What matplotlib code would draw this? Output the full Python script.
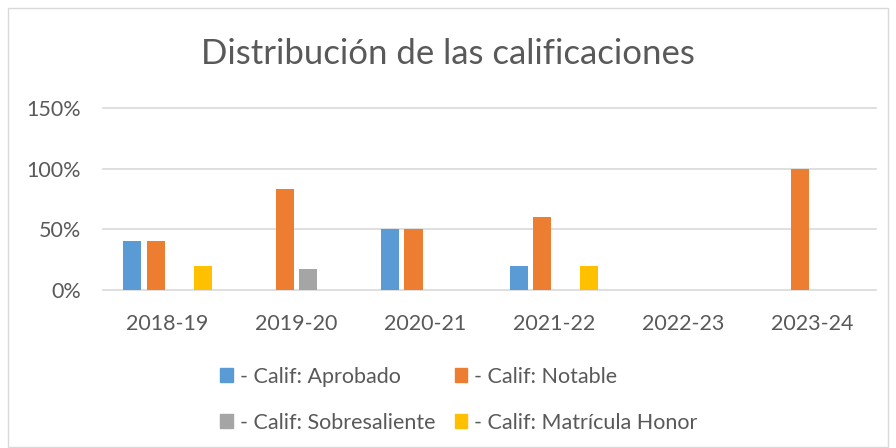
import numpy as np
import matplotlib.pyplot as plt
from matplotlib.patches import Patch, Rectangle
from matplotlib.ticker import PercentFormatter

cursos = ['2018-19', '2019-20', '2020-21', '2021-22', '2022-23', '2023-24']
aprobado = [0.40, 0.0, 0.50, 0.20, 0.0, 0.0]
notable = [0.40, 0.83, 0.50, 0.60, 0.0, 1.00]
sobresaliente = [0.0, 0.17, 0.0, 0.0, 0.0, 0.0]
matricula = [0.20, 0.0, 0.0, 0.20, 0.0, 0.0]

series = [
    ('- Calif: Aprobado', aprobado, '#5B9BD5'),
    ('- Calif: Notable', notable, '#ED7D31'),
    ('- Calif: Sobresaliente', sobresaliente, '#A5A5A5'),
    ('- Calif: Matrícula Honor', matricula, '#FFC000'),
]

plt.rcParams['font.family'] = ['Lato', 'DejaVu Sans']
txt = '#595959'

fig = plt.figure(figsize=(8.96, 4.48), dpi=100)
ax = fig.add_axes([0.115, 0.3527, 0.863, 0.4063])

# marco del gráfico
fig.patches.append(Rectangle((0.009, 0.002), 0.982, 0.98, transform=fig.transFigure,
                             fill=False, edgecolor='#D9D9D9', linewidth=1))

x = np.arange(len(cursos))
step = 0.182
width = 0.14
for i, (name, vals, col) in enumerate(series):
    ax.bar(x + (i - 1.5) * step, vals, width, color=col, linewidth=0, zorder=3)

ax.set_xlim(-0.5, len(cursos) - 0.5)
ax.set_ylim(0, 1.5)
ax.set_yticks([0, 0.5, 1.0, 1.5])
ax.yaxis.set_major_formatter(PercentFormatter(1.0, decimals=0))
ax.set_xticks(x)
ax.set_xticklabels(cursos)
for v in [0, 0.5, 1.0, 1.5]:
    ax.axhline(v, color='#D9D9D9', linewidth=1.2, zorder=1, clip_on=False)
for s in ax.spines.values():
    s.set_visible(False)
ax.tick_params(axis='both', length=0, labelsize=15.5, colors=txt)
ax.tick_params(axis='x', pad=17)
ax.tick_params(axis='y', pad=16)

fig.text(0.5, 0.88, 'Distribución de las calificaciones', ha='center', va='center',
         fontsize=25, color=txt)

handles = [Patch(color=c) for _, _, c in series]
labels = [n for n, _, _ in series]
order = [0, 2, 1, 3]
fig.legend([handles[i] for i in order], [labels[i] for i in order],
           loc='center', bbox_to_anchor=(0.512, 0.108), ncol=2, frameon=False,
           fontsize=15.5, labelcolor=txt, handlelength=0.6, handleheight=0.6,
           handletextpad=0.3, columnspacing=0.9, labelspacing=1.2)

fig.savefig('out.png', dpi=100)
